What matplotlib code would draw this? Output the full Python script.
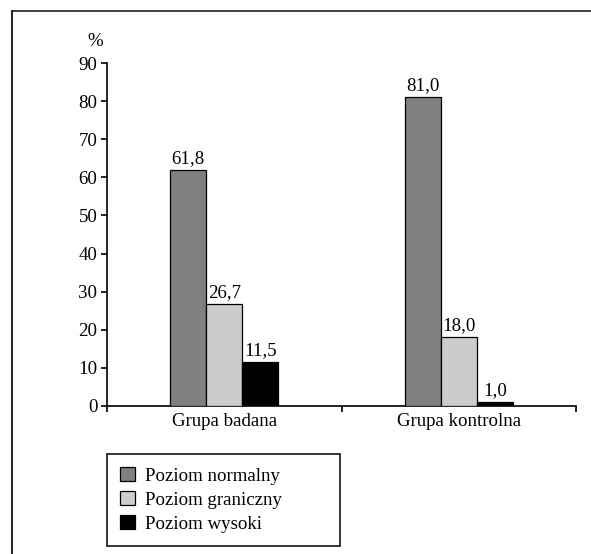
import matplotlib
matplotlib.use("Agg")
import matplotlib.pyplot as plt
from matplotlib.lines import Line2D
import numpy as np

plt.rcParams['font.family'] = ['Liberation Serif', 'DejaVu Serif']

# --- data ---
groups = ['Grupa badana', 'Grupa kontrolna']
levels = ['Poziom normalny', 'Poziom graniczny', 'Poziom wysoki']
normalny = [61.8, 81.0]
graniczny = [26.7, 18.0]
wysoki = [11.5, 1.0]
colors = ['#808080', '#cccccc', '#000000']

W, H = 591, 554
fig = plt.figure(figsize=(W / 100, H / 100), dpi=100)
ax = fig.add_axes([107 / W, 1 - 406 / H, (576 - 107) / W, (406 - 63) / H])

x = np.arange(len(groups))
bw = 0.1535
fs = 13.6
series = [normalny, graniczny, wysoki]
for i, (vals, c, lab) in enumerate(zip(series, colors, levels)):
    bars = ax.bar(x + (i - 1) * bw, vals, bw, color=c, edgecolor='black',
                  linewidth=0.9, label=lab, zorder=3)
    for b, v in zip(bars, vals):
        ax.text(b.get_x() + b.get_width() / 2, v + 0.8, f'{v:.1f}'.replace('.', ','),
                ha='center', va='bottom', fontsize=fs)

ax.set_xlim(-0.5, 1.5)
ax.set_ylim(0, 90)
ax.set_yticks(range(0, 91, 10))
ax.set_xticks([-0.5, 0.5, 1.5])
ax.set_xticklabels([])
ax.set_xticks(x, minor=True)
ax.set_xticklabels(groups, minor=True, fontsize=fs)
ax.tick_params(axis='x', which='minor', length=0, pad=5)
ax.tick_params(axis='x', which='major', length=4, width=1.2, direction='out')
ax.tick_params(axis='y', length=4, width=1.2, direction='out', labelsize=fs, pad=3)

for s in ['top', 'right']:
    ax.spines[s].set_visible(False)
for s in ['left', 'bottom']:
    ax.spines[s].set_linewidth(1.2)

fig.text(95 / W, 1 - 41 / H, '%', ha='center', va='center', fontsize=fs)

leg = fig.legend(loc='upper left',
                 bbox_to_anchor=(107 / W, 1 - 542 / H, (340 - 107) / W, (542 - 454) / H),
                 mode='expand', fontsize=fs, frameon=True, fancybox=False,
                 edgecolor='black', handlelength=0.8, handleheight=0.8,
                 handletextpad=0.55, labelspacing=0.33, borderpad=0.68,
                 borderaxespad=0)
leg.get_frame().set_linewidth(1.1)
leg.get_frame().set_alpha(1)

# outer frame lines (top and left)
fig.add_artist(Line2D([12 / W, 1], [1 - 11 / H, 1 - 11 / H], color='#333333', lw=1.3,
                      transform=fig.transFigure))
fig.add_artist(Line2D([12 / W, 12 / W], [0, 1 - 11 / H], color='#111111', lw=1.3,
                      transform=fig.transFigure))

fig.savefig('out.png', dpi=100)
